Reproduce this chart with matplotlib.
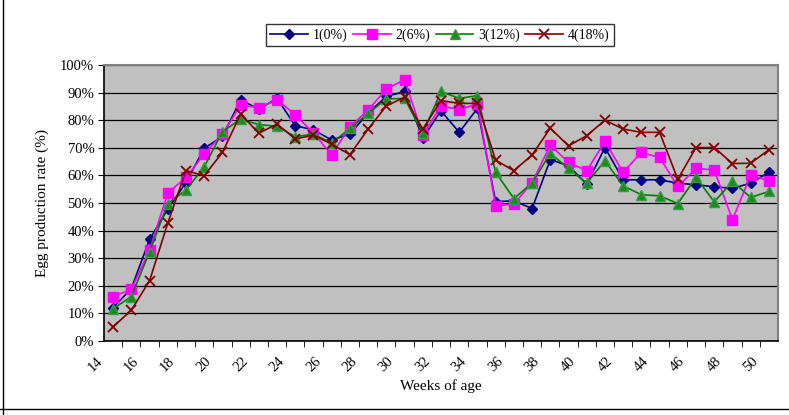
import matplotlib
matplotlib.use("Agg")
import matplotlib.pyplot as plt
from matplotlib.transforms import ScaledTranslation
from matplotlib.lines import Line2D
import numpy as np

weeks = list(range(14, 51))
g1 = [12.1, 19.0, 36.8, 47.8, 57.4, 69.8, 74.1, 87.4, 84.0, 87.9,
      78.0, 76.5, 72.8, 75.0, 82.6, 88.6, 90.4, 73.5, 83.4, 75.6,
      84.3, 50.5, 50.8, 48.0, 65.7, 63.5, 56.8, 70.1, 58.4, 58.4,
      58.4, 57.2, 56.6, 55.9, 55.3, 57.2, 61.1]
g2 = [16.1, 18.7, 32.9, 53.6, 59.3, 67.7, 75.0, 85.5, 84.5, 87.4,
      82.0, 75.3, 67.5, 77.6, 83.7, 91.3, 94.7, 74.6, 85.2, 83.8,
      85.9, 49.0, 49.6, 57.4, 71.0, 64.7, 61.7, 72.3, 61.1, 68.3,
      66.5, 56.0, 62.5, 62.0, 43.9, 60.1, 58.0]
g3 = [11.7, 16.1, 32.3, 49.8, 54.7, 63.1, 75.8, 80.4, 78.4, 77.8,
      74.0, 75.0, 71.7, 77.0, 82.5, 87.7, 87.9, 75.3, 90.4, 87.9,
      88.9, 61.1, 51.6, 57.2, 68.0, 62.5, 57.2, 65.3, 56.2, 53.0,
      52.6, 49.8, 59.3, 50.4, 57.8, 52.0, 54.2]
g4 = [5.1, 11.2, 21.8, 42.7, 61.7, 59.9, 68.3, 82.2, 75.3, 78.6,
      73.2, 74.6, 71.3, 67.5, 76.8, 85.2, 88.3, 76.8, 87.1, 86.1,
      86.1, 65.5, 61.7, 67.4, 77.1, 70.7, 74.4, 80.0, 76.8, 75.6,
      75.6, 58.6, 70.1, 70.1, 64.3, 64.4, 69.3]
series_names = ["1(0%)", "2(6%)", "3(12%)", "4(18%)"]
x_labels = [str(w) for w in range(14, 51, 2)]
y_ticks = list(range(0, 101, 10))

plt.rcParams['font.family'] = ['Liberation Serif', 'DejaVu Serif']

fig = plt.figure(figsize=(7.89, 4.15), dpi=100)
ax = fig.add_axes([104/789, 1-341/415, (778-104)/789, (341-65)/415])
ax.set_facecolor('#C0C0C0')

styles = [
    dict(color='#000080', marker='D', ms=5.5, mfc='#000080', mec='#000080'),
    dict(color='#FF00FF', marker='s', ms=6.5, mfc='#FF00FF', mec='#FF00FF'),
    dict(color='#008000', marker='^', ms=7, mfc='#1E8A1E', mec='#3A9A4A'),
    dict(color='#800000', marker='x', ms=7.5, mfc='#800000', mec='#800000', mew=1.3),
]
handles = []
for data, st, name in zip([g1, g2, g3, g4], styles, series_names):
    h, = ax.plot(weeks, data, lw=1.2, label=name, zorder=3, **st)
    handles.append(h)

ax.set_xlim(13.5, 50.5)
ax.set_ylim(0, 100)
ax.set_yticks(y_ticks)
ax.set_yticklabels([f"{v}%" for v in y_ticks], fontsize=10.5)
ax.yaxis.grid(True, color='black', lw=0.9)
ax.set_axisbelow(True)

ax.set_xticks(list(range(14, 51, 2)))
ax.set_xticklabels(x_labels, fontsize=10.5, rotation=45, ha='right', va='center',
                   rotation_mode='anchor')
ax.set_xticks(np.arange(14.5, 50.5, 1), minor=True)
ax.tick_params(axis='x', which='major', length=0, pad=13)
ax.tick_params(axis='x', which='minor', length=4, direction='out', color='black')
ax.tick_params(axis='y', length=4, direction='out', pad=3)
off = ScaledTranslation(-13/100, 0, fig.dpi_scale_trans)
for lab in ax.get_xticklabels():
    lab.set_transform(lab.get_transform() + off)

for s in ['left', 'bottom']:
    ax.spines[s].set_color('black')
    ax.spines[s].set_linewidth(1.2)
for s in ['top', 'right']:
    ax.spines[s].set_color('#808080')
    ax.spines[s].set_linewidth(1.5)

ax.set_xlabel("Weeks of age", fontsize=11, labelpad=4)
ax.set_ylabel("Egg production rate (%)", fontsize=11, labelpad=8)

leg = fig.legend(handles=handles, loc='center', bbox_to_anchor=(440/789, 1-35/415),
                 ncol=4, fontsize=10, frameon=True, fancybox=False,
                 handlelength=2.7, columnspacing=0.4, handletextpad=0.35,
                 borderpad=0.3, borderaxespad=0)
leg.get_frame().set_edgecolor('black')
leg.get_frame().set_linewidth(1.0)

fig.add_artist(Line2D([2.5/789, 2.5/789], [0, 1], transform=fig.transFigure,
                      color='black', lw=1))
fig.add_artist(Line2D([0, 1], [1-408.5/415, 1-408.5/415], transform=fig.transFigure,
                      color='black', lw=1))

fig.savefig('out.png', dpi=100)
